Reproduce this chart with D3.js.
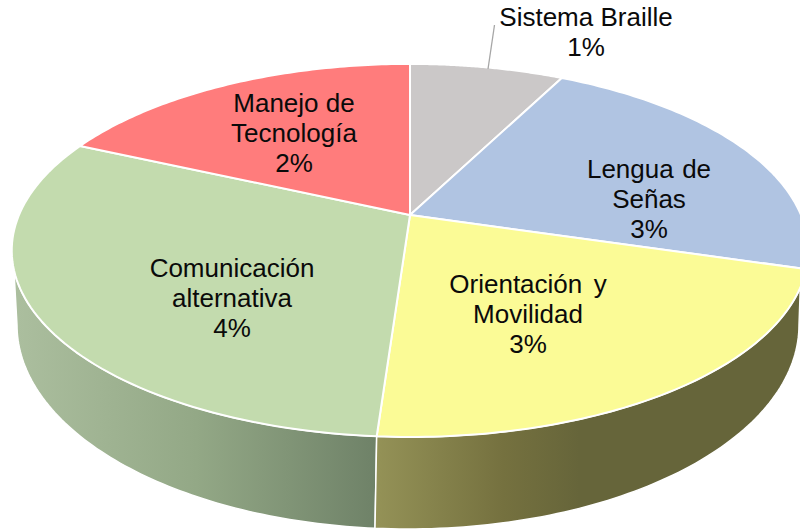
<!DOCTYPE html>
<html><head><meta charset="utf-8">
<style>html,body{margin:0;padding:0;background:#fff}svg{display:block}text{font-family:"Liberation Sans",Arial,sans-serif;font-size:26px;fill:#0a0a0a;white-space:pre;text-anchor:middle}</style>
<script src="https://d3js.org/d3.v7.min.js"></script></head><body>
<script>
const categories = ["Sistema Braille","Lengua de Señas","Orientación y Movilidad","Comunicación alternativa","Manejo de Tecnología"];
const shares = [7.5,22.1,21.5,30.7,18.2];
const percentLabels = ["1%","3%","3%","4%","2%"];
const labelLines = [["Sistema Braille"],["Lengua  de","Señas"],["Orientación  y","Movilidad"],["Comunicación","alternativa"],["Manejo de","Tecnología"]];
const topColors = ["#cbc8c8","#b0c4e2","#fbfb96","#c3dbae","#ff7c7c"];

const W=800,H=531,cx=410,cy=215,k=0.19;
const sx=d3.scaleLinear().domain([-1,1]).range([cx-391,cx+391]);
const sy=d3.scaleLinear().domain([-1,1]).range([cy-179.8,cy+179.8]);
const rim=t=>{const X=Math.sin(t),Y=-Math.cos(t),d=1-k*Y;return [cx+(sx(X)-cx)/d,cy+(sy(Y)-cy)/d];};
const low={cx:408,cy:325,rx:391,ry:204};
const lowPt=p=>[low.cx+low.rx*Math.cos(p),low.cy+low.ry*Math.sin(p)];
const line=d3.line();
const arcs=d3.pie().sort(null)(shares);
const rad=d=>d*Math.PI/180;
const steps=(a,b,n=80)=>d3.range(n+1).map(i=>a+(b-a)*i/n);

const svg=d3.select("body").append("svg").attr("width",W).attr("height",H).attr("viewBox",`0 0 ${W} ${H}`);
const defs=svg.append("defs");
function grad(id,x1,x2,stops){const g=defs.append("linearGradient").attr("id",id).attr("gradientUnits","userSpaceOnUse").attr("x1",x1).attr("x2",x2).attr("y1",0).attr("y2",0);
 stops.forEach(s=>g.append("stop").attr("offset",s[0]).attr("stop-color",s[1]));}
grad("gGreen",18,375,[[0,"#abbe9e"],[0.5,"#93a886"],[1,"#6f8268"]]);
grad("gYellow",376,800,[[0,"#949257"],[0.3,"#75713f"],[0.48,"#66653a"],[1,"#66653a"]]);

// side walls
const splitGY=arcs[3].startAngle;
const pSplit=Math.acos((375-low.cx)/low.rx);
const greenPts=[...steps(splitGY,rad(262)).map(rim),...steps(Math.PI,pSplit).map(lowPt)];
const yellowPts=[...steps(splitGY,rad(112)).map(rim),...steps(0,pSplit).map(lowPt)];
svg.append("path").attr("d",line(greenPts)+"Z").attr("fill","url(#gGreen)").attr("stroke","#fff").attr("stroke-width",1.5);
svg.append("path").attr("d",line(yellowPts)+"Z").attr("fill","url(#gYellow)").attr("stroke","#fff").attr("stroke-width",1.5);

// top slices
svg.append("g").selectAll("path").data(arcs).join("path")
 .attr("d",d=>line([[cx,cy],...steps(d.startAngle,d.endAngle).map(rim)])+"Z")
 .attr("fill",(d,i)=>topColors[i]).attr("stroke","#fff").attr("stroke-width",2).attr("stroke-linejoin","round");

// leader line
svg.append("path").attr("d",line([[494.5,25],[488,69]])).attr("stroke","#a6a6a6").attr("stroke-width",1.3).attr("fill","none");

// labels
const labelCenters=[[586,26],[649,178],[528,293],[232,277],[294,112]];
const wordGap=[0,-3,-1.5,0,0];
const lh=30;
labelLines.forEach((lines,i)=>{
 const g=svg.append("text").attr("aria-label",categories[i]).style("word-spacing",wordGap[i]+"px");
 [...lines,percentLabels[i]].forEach((t,j)=>g.append("tspan").attr("x",labelCenters[i][0]).attr("y",labelCenters[i][1]+j*lh).text(t));
});
</script></body></html>
